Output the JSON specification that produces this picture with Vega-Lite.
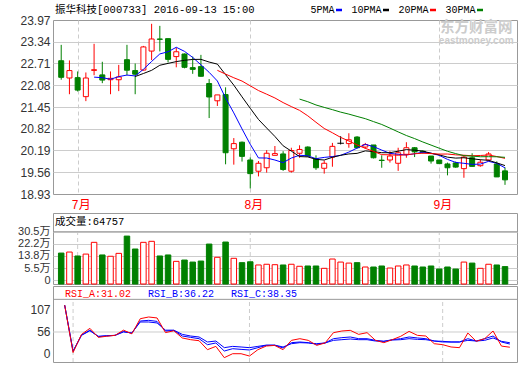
{
  "$schema": "https://vega.github.io/schema/vega-lite/v6.json",
  "background": "#ffffff",
  "padding": {"left": 17, "top": 4, "right": 1, "bottom": 1},
  "config": {
    "view": {"stroke": "#999999", "strokeWidth": 1},
    "axis": {"ticks": false, "domain": false, "title": null, "labelFont": "Liberation Sans, Noto Sans CJK SC", "labelFontSize": 12, "labelColor": "#333333", "labelPadding": 3, "gridColor": "#cccccc", "gridWidth": 1, "labelFlush": false, "labelOverlap": false},
    "title": {"font": "Liberation Mono, Noto Sans CJK SC", "fontSize": 10.5, "fontWeight": "normal", "color": "#000000", "anchor": "start", "frame": "group", "baseline": "bottom"},
    "legend": {"labelFont": "Liberation Mono, Noto Sans CJK SC", "labelFontSize": 10, "labelColor": "#000000", "title": null, "padding": 0}
  },
  "datasets": {
    "k": [
      {"i":0,"d":"2016-06-29","o":22.79,"h":23.25,"l":22.24,"c":22.31,"v":15.8},
      {"i":1,"d":"2016-06-30","o":22.29,"h":22.8,"l":21.82,"c":22.505,"v":16.5,"ra":100,"rb":100,"rc":100},
      {"i":2,"d":"2016-07-01","o":22.3,"h":22.48,"l":21.9,"c":21.94,"v":13.8,"ra":22.3,"rb":24,"rc":24.9},
      {"i":3,"d":"2016-07-04","o":21.75,"h":22.45,"l":21.62,"c":22.29,"v":15.1,"ra":52,"rb":51,"rc":50.5},
      {"i":4,"d":"2016-07-05","o":22.51,"h":23.28,"l":22.37,"c":22.53,"v":23.2,"ma5":22.315,"ra":62,"rb":59,"rc":58},
      {"i":5,"d":"2016-07-06","o":22.38,"h":22.76,"l":22.14,"c":22.23,"v":14.5,"ma5":22.299,"ra":47.2,"rb":48.3,"rc":49},
      {"i":6,"d":"2016-07-07","o":22.24,"h":22.48,"l":21.82,"c":22.28,"v":13.6,"ma5":22.254,"ra":49,"rb":49.5,"rc":50},
      {"i":7,"d":"2016-07-08","o":22.24,"h":22.67,"l":21.91,"c":22.32,"v":15.6,"ma5":22.33,"ra":50.5,"rb":50.5,"rc":50.5},
      {"i":8,"d":"2016-07-11","o":22.82,"h":23.25,"l":22.37,"c":22.515,"v":27.5,"ma5":22.375,"ra":59,"rb":57,"rc":56},
      {"i":9,"d":"2016-07-12","o":22.505,"h":22.71,"l":21.82,"c":22.4,"v":18.6,"ma5":22.349,"ma10":22.332,"ra":53,"rb":54,"rc":54.5},
      {"i":10,"d":"2016-07-13","o":22.52,"h":23.22,"l":22.505,"c":23.19,"v":23.2,"ma5":22.541,"ma10":22.42,"ra":77.8,"rb":74,"rc":72.4},
      {"i":11,"d":"2016-07-14","o":23.07,"h":23.86,"l":22.81,"c":23.42,"v":23.9,"ma5":22.769,"ma10":22.512,"ra":80.6,"rb":75.1,"rc":72.4},
      {"i":12,"d":"2016-07-15","o":23.42,"h":23.8,"l":23.06,"c":23.41,"v":13.8,"ma5":22.987,"ma10":22.659,"ra":79,"rb":73.4,"rc":70.8},
      {"i":13,"d":"2016-07-18","o":23.43,"h":23.43,"l":22.74,"c":22.83,"v":14.5,"ma5":23.05,"ma10":22.713,"ra":55,"rb":57.5,"rc":59},
      {"i":14,"d":"2016-07-19","o":22.91,"h":23.17,"l":22.6,"c":23.05,"v":10.1,"ma5":23.18,"ma10":22.765,"ra":58,"rb":58.5,"rc":59},
      {"i":15,"d":"2016-07-20","o":22.985,"h":23,"l":22.57,"c":22.6,"v":11,"ma5":23.062,"ma10":22.802,"ra":46.2,"rb":49.4,"rc":52.1},
      {"i":16,"d":"2016-07-21","o":22.59,"h":22.91,"l":22.41,"c":22.54,"v":9.6,"ma5":22.886,"ma10":22.828,"ra":43.4,"rb":47.2,"rc":49.4},
      {"i":17,"d":"2016-07-22","o":22.62,"h":22.96,"l":22.33,"c":22.34,"v":10.3,"ma5":22.672,"ma10":22.83,"ra":41.7,"rb":45,"rc":47.8},
      {"i":18,"d":"2016-07-25","o":22.13,"h":22.26,"l":21.13,"c":21.74,"v":22,"ma5":22.454,"ma10":22.752,"ra":27,"rb":35.2,"rc":39.6},
      {"i":19,"d":"2016-07-26","o":21.63,"h":21.8,"l":21.48,"c":21.8,"v":12.9,"ma5":22.204,"ma10":22.692,"ma20":22.512,"ra":32.4,"rb":38,"rc":41.2},
      {"i":20,"d":"2016-07-27","o":21.81,"h":22.02,"l":19.79,"c":20.125,"v":23.4,"ma5":21.709,"ma10":22.386,"ma20":22.403,"ra":13.9,"rb":24.8,"rc":30.3},
      {"i":21,"d":"2016-07-28","o":20.24,"h":20.55,"l":19.78,"c":20.39,"v":12.2,"ma5":21.279,"ma10":22.083,"ma20":22.297,"ra":20.4,"rb":28.6,"rc":32.4},
      {"i":22,"d":"2016-07-29","o":20.43,"h":20.45,"l":19.87,"c":20.02,"v":9.2,"ma5":20.815,"ma10":21.744,"ma20":22.201,"ra":20.4,"rb":27.5,"rc":31.4},
      {"i":23,"d":"2016-08-01","o":19.915,"h":19.99,"l":19.09,"c":19.52,"v":9.8,"ma5":20.371,"ma10":21.413,"ma20":22.063,"ra":16.6,"rb":26.5,"rc":30.3},
      {"i":24,"d":"2016-08-02","o":19.59,"h":19.885,"l":19.44,"c":19.82,"v":7.6,"ma5":19.975,"ma10":21.09,"ma20":21.927,"ra":27,"rb":30.3,"rc":32.4},
      {"i":25,"d":"2016-08-03","o":19.69,"h":20.2,"l":19.55,"c":20.11,"v":8.1,"ma5":19.972,"ma10":20.841,"ma20":21.821,"ra":33,"rb":34,"rc":34.5},
      {"i":26,"d":"2016-08-04","o":20.05,"h":20.32,"l":20.05,"c":20.1,"v":7.8,"ma5":19.914,"ma10":20.597,"ma20":21.712,"ra":34,"rb":34.2,"rc":34.5},
      {"i":27,"d":"2016-08-05","o":20.09,"h":20.17,"l":19.6,"c":19.64,"v":7.6,"ma5":19.838,"ma10":20.327,"ma20":21.578,"ra":27,"rb":29.8,"rc":31.4},
      {"i":28,"d":"2016-08-08","o":19.59,"h":20.27,"l":19.55,"c":20.19,"v":8.1,"ma5":19.972,"ma10":20.172,"ma20":21.462,"ra":42.3,"rb":38.5,"rc":36.8},
      {"i":29,"d":"2016-08-09","o":20.11,"h":20.34,"l":19.98,"c":20.22,"v":6.7,"ma5":20.052,"ma10":20.014,"ma20":21.353,"ma30":21.679,"ra":45,"rb":39.6,"rc":38.5},
      {"i":30,"d":"2016-08-10","o":20.29,"h":20.31,"l":20.01,"c":20.03,"v":6.9,"ma5":20.036,"ma10":20.004,"ma20":21.195,"ma30":21.603,"ra":42.3,"rb":38.5,"rc":38},
      {"i":31,"d":"2016-08-11","o":19.95,"h":20.05,"l":19.63,"c":19.69,"v":6.9,"ma5":19.954,"ma10":19.934,"ma20":21.008,"ma30":21.509,"ra":34.1,"rb":35.7,"rc":36.8},
      {"i":32,"d":"2016-08-12","o":19.675,"h":19.9,"l":19.52,"c":19.82,"v":5.3,"ma5":19.99,"ma10":19.914,"ma20":20.829,"ma30":21.439,"ra":38,"rb":38,"rc":38},
      {"i":33,"d":"2016-08-15","o":20,"h":20.41,"l":19.72,"c":20.31,"v":11.7,"ma5":20.014,"ma10":19.993,"ma20":20.703,"ma30":21.373,"ra":54.9,"rb":45,"rc":42.3},
      {"i":34,"d":"2016-08-16","o":20.4,"h":20.605,"l":20.365,"c":20.4,"v":9.6,"ma5":20.05,"ma10":20.051,"ma20":20.57,"ma30":21.302,"ra":57.6,"rb":46.7,"rc":43.4},
      {"i":35,"d":"2016-08-17","o":20.39,"h":20.69,"l":20.27,"c":20.5,"v":8.9,"ma5":20.144,"ma10":20.09,"ma20":20.465,"ma30":21.244,"ra":58.7,"rb":47.8,"rc":44.5},
      {"i":36,"d":"2016-08-18","o":20.58,"h":20.605,"l":20.25,"c":20.27,"v":9.2,"ma5":20.26,"ma10":20.107,"ma20":20.352,"ma30":21.177,"ra":52.1,"rb":45,"rc":43.4},
      {"i":37,"d":"2016-08-19","o":20.29,"h":20.41,"l":20.24,"c":20.36,"v":6.2,"ma5":20.368,"ma10":20.179,"ma20":20.253,"ma30":21.112,"ra":54.9,"rb":45,"rc":43.4},
      {"i":38,"d":"2016-08-22","o":20.35,"h":20.35,"l":19.96,"c":19.98,"v":6.2,"ma5":20.302,"ma10":20.158,"ma20":20.165,"ma30":21.027,"ra":42.3,"rb":42.3,"rc":41.2},
      {"i":39,"d":"2016-08-23","o":19.91,"h":20.05,"l":19.69,"c":19.9,"v":6.9,"ma5":20.202,"ma10":20.126,"ma20":20.07,"ma30":20.944,"ra":38.5,"rb":40.7,"rc":40.7},
      {"i":40,"d":"2016-08-24","o":19.915,"h":20.17,"l":19.84,"c":20.03,"v":5.5,"ma5":20.108,"ma10":20.126,"ma20":20.065,"ma30":20.839,"ra":43.4,"rb":43.4,"rc":42.8},
      {"i":41,"d":"2016-08-25","o":19.82,"h":20.27,"l":19.6,"c":20.125,"v":6.9,"ma5":20.079,"ma10":20.17,"ma20":20.052,"ma30":20.729,"ra":48.9,"rb":45,"rc":43.4},
      {"i":42,"d":"2016-08-26","o":20.08,"h":20.43,"l":19.98,"c":20.27,"v":7.6,"ma5":20.061,"ma10":20.215,"ma20":20.064,"ma30":20.624,"ra":57,"rb":47.8,"rc":45},
      {"i":43,"d":"2016-08-29","o":20.27,"h":20.29,"l":20,"c":20.15,"v":6.9,"ma5":20.095,"ma10":20.199,"ma20":20.096,"ma30":20.535,"ra":50.5,"rb":46.2,"rc":43.9},
      {"i":44,"d":"2016-08-30","o":20.17,"h":20.19,"l":20.1,"c":20.13,"v":6.2,"ma5":20.141,"ma10":20.172,"ma20":20.111,"ma30":20.437,"ra":49.4,"rb":45,"rc":43.4},
      {"i":45,"d":"2016-08-31","o":20.03,"h":20.03,"l":19.81,"c":19.885,"v":6.9,"ma5":20.112,"ma10":20.11,"ma20":20.1,"ma30":20.347,"ra":36.8,"rb":41.2,"rc":41.2},
      {"i":46,"d":"2016-09-01","o":19.915,"h":19.92,"l":19.8,"c":19.81,"v":4.8,"ma5":20.049,"ma10":20.064,"ma20":20.086,"ma30":20.256,"ra":35.2,"rb":39.6,"rc":40.7},
      {"i":47,"d":"2016-09-02","o":19.8,"h":19.84,"l":19.47,"c":19.69,"v":6.2,"ma5":19.933,"ma10":19.997,"ma20":20.088,"ma30":20.168,"ra":31.4,"rb":39.6,"rc":39.6},
      {"i":48,"d":"2016-09-05","o":19.83,"h":19.87,"l":19.69,"c":19.71,"v":4.8,"ma5":19.845,"ma10":19.97,"ma20":20.064,"ma30":20.1,"ra":30.3,"rb":39.6,"rc":39.6},
      {"i":49,"d":"2016-09-06","o":19.665,"h":20.03,"l":19.4,"c":20,"v":9.6,"ma5":19.819,"ma10":19.98,"ma20":20.053,"ma30":20.04,"ra":54.3,"rb":45,"rc":42.3},
      {"i":50,"d":"2016-09-07","o":19.98,"h":20.11,"l":19.72,"c":19.73,"v":8.9,"ma5":19.788,"ma10":19.95,"ma20":20.038,"ma30":20.027,"ra":40.7,"rb":41.2,"rc":41.2},
      {"i":51,"d":"2016-09-08","o":19.75,"h":19.93,"l":19.72,"c":19.85,"v":5.3,"ma5":19.796,"ma10":19.923,"ma20":20.046,"ma30":20.009,"ra":45,"rb":45,"rc":42.3},
      {"i":52,"d":"2016-09-09","o":19.915,"h":20.145,"l":19.875,"c":20.09,"v":8.1,"ma5":19.876,"ma10":19.905,"ma20":20.06,"ma30":20.011,"ra":57.6,"rb":49.4,"rc":46.2},
      {"i":53,"d":"2016-09-12","o":19.8,"h":19.875,"l":19.425,"c":19.425,"v":7.6,"ma5":19.819,"ma10":19.832,"ma20":20.015,"ma30":20.008,"ra":32.9,"rb":39.6,"rc":40.7},
      {"i":54,"d":"2016-09-13","o":19.6,"h":19.7,"l":19.195,"c":19.34,"v":6.48,"ma5":19.687,"ma10":19.753,"ma20":19.962,"ma30":19.992,"ra":31.02,"rb":36.22,"rc":38.35}
    ],
    "months": [{"i": 2, "m": "7月"}, {"i": 23, "m": "8月"}, {"i": 46, "m": "9月"}]
  },
  "bounds": "flush",
  "spacing": 19,
  "resolve": {"scale": {"color": "independent"}, "legend": {"color": "independent"}},
  "vconcat": [
    {
      "width": 464,
      "height": 174,
      "title": {"text": "振华科技[000733] 2016-09-13 15:00", "offset": -10.5, "dx": 2},
      "data": {"name": "k"},
      "layer": [
        {
          "mark": {"type": "rule", "strokeWidth": 1},
          "encoding": {
            "x": {"field": "i", "type": "quantitative", "scale": {"domain": [-0.39, 54.85], "nice": false, "zero": false},
              "axis": {"values": [2, 23, 46], "tickCount": 20, "labelExpr": "datum.value == 2 ? '7月' : datum.value == 23 ? '8月' : '9月'", "labelColor": "#ff0000", "labelFont": "Liberation Mono, Noto Sans CJK SC", "labelFontSize": 12, "labelPadding": 5, "labelOffset": 3, "labelAlign": "center", "labelOverlap": false, "grid": true, "gridDash": [4, 3]}},
            "y": {"field": "l", "type": "quantitative", "scale": {"domain": [18.93, 23.97], "nice": false, "zero": false},
              "axis": {"values": [18.93, 19.56, 20.19, 20.82, 21.45, 22.08, 22.71, 23.34, 23.97], "tickCount": 20, "format": ".2f", "labelOverlap": false, "grid": true, "gridOpacity": {"condition": {"test": "datum.value < 19 || datum.value > 23.9", "value": 0}, "value": 1}}},
            "y2": {"field": "h"},
            "color": {"condition": [{"test": "datum.c > datum.o", "value": "#ff0000"}, {"test": "datum.c < datum.o", "value": "#008000"}], "value": "#000000"}
          }
        },
        {
          "transform": [{"filter": "datum.c != datum.o"}],
          "mark": {"type": "bar", "width": 5, "strokeWidth": 1},
          "encoding": {
            "x": {"field": "i", "type": "quantitative"},
            "y": {"field": "o", "type": "quantitative"},
            "y2": {"field": "c"},
            "fill": {"condition": {"test": "datum.c > datum.o", "value": "#ffffff"}, "value": "#008000"},
            "stroke": {"condition": {"test": "datum.c > datum.o", "value": "#ff0000"}, "value": "#008000"}
          }
        },
        {
          "transform": [{"filter": "datum.c == datum.o"}],
          "mark": {"type": "point", "shape": "stroke", "size": 42, "strokeWidth": 1, "color": "#000000", "filled": false, "opacity": 1},
          "encoding": {
            "x": {"field": "i", "type": "quantitative"},
            "y": {"field": "o", "type": "quantitative"}
          }
        },
        {
          "mark": {"type": "line", "strokeWidth": 1},
          "encoding": {
            "x": {"field": "i", "type": "quantitative"},
            "y": {"field": "ma5", "type": "quantitative"},
            "color": {"datum": "5PMA", "type": "nominal",
              "scale": {"domain": ["5PMA", "10PMA", "20PMA", "30PMA"], "range": ["#0000ff", "#000000", "#ff0000", "#008000"]},
              "legend": {"orient": "none", "legendX": 281, "legendY": -15, "direction": "horizontal", "columns": 4, "symbolType": "stroke", "symbolSize": 36, "symbolStrokeWidth": 2.5, "labelAlign": "right", "labelOffset": -9.5, "columnPadding": 4}}
          }
        },
        {
          "mark": {"type": "line", "strokeWidth": 1},
          "encoding": {
            "x": {"field": "i", "type": "quantitative"},
            "y": {"field": "ma10", "type": "quantitative"},
            "color": {"datum": "10PMA", "type": "nominal"}
          }
        },
        {
          "mark": {"type": "line", "strokeWidth": 1},
          "encoding": {
            "x": {"field": "i", "type": "quantitative"},
            "y": {"field": "ma20", "type": "quantitative"},
            "color": {"datum": "20PMA", "type": "nominal"}
          }
        },
        {
          "mark": {"type": "line", "strokeWidth": 1},
          "encoding": {
            "x": {"field": "i", "type": "quantitative"},
            "y": {"field": "ma30", "type": "quantitative"},
            "color": {"datum": "30PMA", "type": "nominal"}
          }
        },
        {
          "data": {"values": [{}]},
          "mark": {"type": "text", "text": "东方财富网", "font": "Noto Sans CJK SC", "fontSize": 14.5, "fontWeight": "bold", "color": "#cccccc", "align": "center", "baseline": "middle"},
          "encoding": {"x": {"datum": 50.5}, "y": {"datum": 23.73}}
        },
        {
          "data": {"values": [{}]},
          "mark": {"type": "text", "text": "eastmoney.com", "font": "Liberation Sans", "fontSize": 10, "fontWeight": "bold", "color": "#cccccc", "align": "center", "baseline": "middle"},
          "encoding": {"x": {"datum": 50.5}, "y": {"datum": 23.36}}
        }
      ]
    },
    {
      "bounds": "flush",
      "spacing": 2,
      "resolve": {"scale": {"color": "independent"}, "legend": {"color": "independent"}},
      "vconcat": [
        {
          "width": 464,
          "height": 71,
          "title": {"text": "成交量:64757", "offset": -14.5, "dx": 2},
          "layer": [
            {
              "data": {"name": "months"},
              "mark": {"type": "rule", "color": "#cccccc", "strokeDash": [4, 3]},
              "encoding": {
                "x": {"field": "i", "type": "quantitative", "scale": {"domain": [-0.39, 54.85], "nice": false, "zero": false}, "axis": null},
                "y": {"datum": -5.5},
                "y2": {"datum": 30.5}
              }
            },
            {
              "data": {"name": "k"},
              "mark": {"type": "bar", "width": 5.5, "strokeWidth": 1},
              "encoding": {
                "x": {"field": "i", "type": "quantitative", "axis": null},
                "y": {"field": "v", "type": "quantitative", "scale": {"domain": [-5.5, 43.4], "nice": false, "zero": false},
                  "axis": {"values": [-2.8, 5.5, 13.8, 22.2, 30.5], "tickCount": 20, "labelExpr": "datum.value < 0 ? '0' : datum.value + '万'", "labelFontSize": 11, "labelOverlap": false, "grid": true}},
                "y2": {"datum": -5.5},
                "fill": {"condition": {"test": "datum.c >= datum.o", "value": "#ffffff"}, "value": "#008000"},
                "stroke": {"condition": {"test": "datum.c >= datum.o", "value": "#ff0000"}, "value": "#008000"}
              }
            },
            {
              "data": {"values": [{}]},
              "mark": {"type": "rule", "color": "#999999"},
              "encoding": {"y": {"datum": 30.5}}
            }
          ]
        },
        {
          "width": 464,
          "height": 76,
          "data": {"name": "k"},
          "layer": [
            {
              "data": {"name": "months"},
              "mark": {"type": "rule", "color": "#cccccc", "strokeDash": [4, 3]},
              "encoding": {
                "x": {"field": "i", "type": "quantitative", "scale": {"domain": [-0.39, 54.85], "nice": false, "zero": false}, "axis": null},
                "y": {"datum": 6.8},
                "y2": {"datum": 109.5}
              }
            },
            {
              "data": {"values": [{}]},
              "mark": {"type": "rule", "color": "#cccccc"},
              "encoding": {"y": {"datum": 56}}
            },
            {
              "data": {"values": [{}]},
              "mark": {"type": "rule", "color": "#999999"},
              "encoding": {"y": {"datum": 109.5}}
            },
            {
              "mark": {"type": "line", "strokeWidth": 1},
              "encoding": {
                "x": {"field": "i", "type": "quantitative", "axis": null},
                "y": {"field": "rc", "type": "quantitative", "scale": {"domain": [6.8, 131.4], "nice": false, "zero": false},
                  "axis": {"values": [20.4, 56, 93.1], "tickCount": 20, "labelExpr": "datum.value == 56 ? '56' : datum.value < 56 ? '0' : '107'", "labelOverlap": false, "grid": false}},
                "color": {"datum": "RSI_C:38.35", "type": "nominal",
                  "scale": {"domain": ["RSI_A:31.02", "RSI_B:36.22", "RSI_C:38.35"], "range": ["#ff0000", "#0000ff", "#0000ff"]},
                  "legend": {"orient": "none", "legendX": 2, "legendY": 3, "direction": "horizontal", "columns": 3, "symbolSize": 0, "symbolStrokeWidth": 0, "symbolOpacity": 0, "labelOffset": 0, "columnPadding": 6,
                    "encode": {"labels": {"update": {"fill": {"signal": "indexof(datum.label, 'RSI_A') === 0 ? '#ff0000' : '#0000ff'"}}}}}}
              }
            },
            {
              "mark": {"type": "line", "strokeWidth": 1},
              "encoding": {
                "x": {"field": "i", "type": "quantitative"},
                "y": {"field": "rb", "type": "quantitative"},
                "color": {"datum": "RSI_B:36.22", "type": "nominal"}
              }
            },
            {
              "mark": {"type": "line", "strokeWidth": 1},
              "encoding": {
                "x": {"field": "i", "type": "quantitative"},
                "y": {"field": "ra", "type": "quantitative"},
                "color": {"datum": "RSI_A:31.02", "type": "nominal"}
              }
            }
          ]
        }
      ]
    }
  ]
}
